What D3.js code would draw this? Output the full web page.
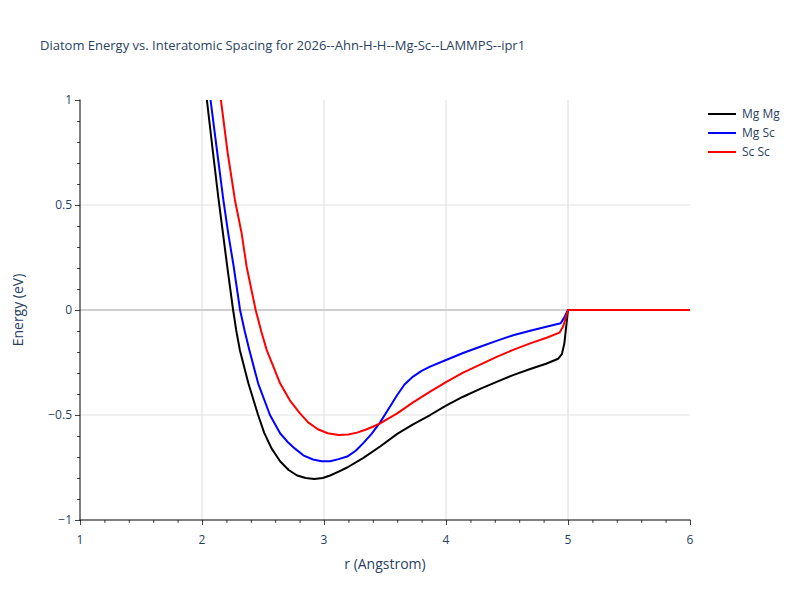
<!DOCTYPE html>
<html>
<head>
<meta charset="utf-8">
<script src="https://cdn.jsdelivr.net/npm/d3@7"></script>
<style>
body { margin: 0; background: #fff; }
text { font-family: "Open Sans", sans-serif; }
</style>
</head>
<body>
<svg id="chart" width="800" height="600"></svg>
<script>
const title = "Diatom Energy vs. Interatomic Spacing for 2026--Ahn-H-H--Mg-Sc--LAMMPS--ipr1";
const seriesNames = ["Mg Mg", "Mg Sc", "Sc Sc"];
const seriesColors = ["black", "blue", "red"];

const rMgMg = [2.00, 2.04, 2.09, 2.135, 2.172, 2.207, 2.255, 2.28, 2.31, 2.38, 2.46, 2.51, 2.57, 2.64, 2.71, 2.78, 2.85, 2.92, 2.99, 3.05, 3.12, 3.19, 3.32, 3.46, 3.60, 3.73, 3.87, 4.00, 4.14, 4.28, 4.42, 4.55, 4.69, 4.82, 4.92, 4.95, 4.97, 5.00, 6.00];
const eMgMg = [1.25, 1.00, 0.75, 0.53, 0.365, 0.206, 0.00, -0.095, -0.19, -0.349, -0.50, -0.585, -0.659, -0.72, -0.762, -0.788, -0.80, -0.805, -0.80, -0.788, -0.77, -0.75, -0.705, -0.65, -0.59, -0.545, -0.50, -0.455, -0.413, -0.376, -0.341, -0.31, -0.281, -0.256, -0.232, -0.21, -0.16, 0.00, 0.00];

const rMgSc = [2.03, 2.07, 2.125, 2.175, 2.215, 2.26, 2.312, 2.35, 2.388, 2.46, 2.557, 2.64, 2.70, 2.76, 2.83, 2.91, 2.98, 3.05, 3.12, 3.19, 3.26, 3.32, 3.39, 3.46, 3.53, 3.60, 3.66, 3.73, 3.80, 3.87, 4.00, 4.14, 4.28, 4.42, 4.55, 4.69, 4.83, 4.94, 4.97, 5.00, 6.00];
const eMgSc = [1.20, 1.00, 0.75, 0.524, 0.365, 0.206, 0.00, -0.10, -0.19, -0.349, -0.50, -0.587, -0.627, -0.659, -0.692, -0.712, -0.72, -0.72, -0.71, -0.698, -0.67, -0.635, -0.59, -0.535, -0.47, -0.405, -0.355, -0.317, -0.29, -0.27, -0.238, -0.205, -0.175, -0.146, -0.12, -0.099, -0.079, -0.063, -0.035, 0.00, 0.00];

const rScSc = [2.12, 2.155, 2.21, 2.27, 2.325, 2.366, 2.44, 2.485, 2.53, 2.64, 2.72, 2.80, 2.87, 2.95, 3.03, 3.12, 3.20, 3.27, 3.34, 3.40, 3.46, 3.60, 3.73, 3.87, 4.00, 4.14, 4.28, 4.42, 4.55, 4.69, 4.83, 4.93, 4.96, 5.00, 6.00];
const eScSc = [1.20, 1.00, 0.75, 0.524, 0.365, 0.206, 0.00, -0.10, -0.19, -0.349, -0.43, -0.49, -0.535, -0.568, -0.587, -0.595, -0.593, -0.584, -0.57, -0.556, -0.54, -0.492, -0.44, -0.389, -0.343, -0.298, -0.26, -0.222, -0.19, -0.159, -0.131, -0.108, -0.079, 0.00, 0.00];

const xTicks = [1, 2, 3, 4, 5, 6];
const yTicks = [-1, -0.5, 0, 0.5, 1];
const xDomain = [1, 6];
const yDomain = [-1, 1];

const seriesR = [rMgMg, rMgSc, rScSc];
const seriesE = [eMgMg, eMgSc, eScSc];

const svg = d3.select("#chart");
const m = { left: 80, right: 110, top: 100, bottom: 80 };
const W = 800, H = 600;
const x = d3.scaleLinear().domain(xDomain).range([m.left, W - m.right]);
const y = d3.scaleLinear().domain(yDomain).range([H - m.bottom, m.top]);
const fontColor = "#2a3f5f";

// title
svg.append("text").attr("x", 40).attr("y", 50).attr("font-size", 13)
  .attr("fill", fontColor).text(title);

// grid
const grid = svg.append("g");
xTicks.filter(t => t > xDomain[0] && t < xDomain[1]).forEach(t => {
  grid.append("line").attr("x1", x(t)).attr("x2", x(t)).attr("y1", y(yDomain[0])).attr("y2", y(yDomain[1]))
    .attr("stroke", "#dcdcdc").attr("stroke-width", 1);
});
yTicks.filter(t => t > yDomain[0] && t < yDomain[1]).forEach(t => {
  grid.append("line").attr("x1", x(xDomain[0])).attr("x2", x(xDomain[1])).attr("y1", y(t)).attr("y2", y(t))
    .attr("stroke", t === 0 ? "#cfcfcf" : "#e2e2e2").attr("stroke-width", t === 0 ? 2 : 1);
});

// clip
svg.append("clipPath").attr("id", "clip").append("rect")
  .attr("x", x(xDomain[0])).attr("y", y(yDomain[1]))
  .attr("width", x(xDomain[1]) - x(xDomain[0])).attr("height", y(yDomain[0]) - y(yDomain[1]));

const line = d3.line().x(d => x(d[0])).y(d => y(d[1]));
const lines = svg.append("g").attr("clip-path", "url(#clip)");
seriesR.forEach((rs, i) => {
  const pts = rs.map((r, j) => [r, seriesE[i][j]]);
  lines.append("path").datum(pts).attr("d", line).attr("fill", "none")
    .attr("stroke", seriesColors[i]).attr("stroke-width", 2).attr("stroke-linejoin", "round");
});

// axes
const fmt = v => (v < 0 ? "\u2212" : "") + Math.abs(v);
const xAxis = svg.append("g").attr("transform", `translate(0,${y(yDomain[0])})`);
xAxis.call(d3.axisBottom(x).tickValues(d3.range(1, 6.001, 0.2)).tickSize(3).tickFormat(""));
xAxis.call(g => g.selectAll(".tick").filter(d => Math.abs(d - Math.round(d)) < 1e-6).select("line").attr("y2", 5));
xAxis.selectAll(".domain").remove();
xAxis.append("line").attr("x1", x(xDomain[0]) - 0.5).attr("x2", x(xDomain[1]) + 0.5).attr("stroke", "black");
xAxis.selectAll(".tick line").attr("stroke", "#444");
xTicks.forEach(t => {
  xAxis.append("text").attr("x", x(t)).attr("y", 24).attr("text-anchor", "middle")
    .attr("font-size", 12).attr("fill", fontColor).text(fmt(t));
});

const yAxis = svg.append("g").attr("transform", `translate(${x(xDomain[0])},0)`);
yAxis.call(d3.axisLeft(y).tickValues(d3.range(-1, 1.001, 0.1)).tickSize(3).tickFormat(""));
yAxis.call(g => g.selectAll(".tick").filter(d => Math.abs(d * 2 - Math.round(d * 2)) < 1e-6).select("line").attr("x2", -5));
yAxis.selectAll(".domain").remove();
yAxis.append("line").attr("y1", y(yDomain[0]) + 0.5).attr("y2", y(yDomain[1]) - 0.5).attr("stroke", "black");
yAxis.selectAll(".tick line").attr("stroke", "#444");
yTicks.forEach(t => {
  yAxis.append("text").attr("x", -8).attr("y", y(t)).attr("dy", "0.35em").attr("text-anchor", "end")
    .attr("font-size", 12).attr("fill", fontColor).text(fmt(t));
});

// axis titles
svg.append("text").attr("x", (x(xDomain[0]) + x(xDomain[1])) / 2).attr("y", 569).attr("text-anchor", "middle")
  .attr("font-size", 14).attr("fill", fontColor).text("r (Angstrom)");
svg.append("text").attr("transform", `translate(23,${(y(yDomain[0]) + y(yDomain[1])) / 2}) rotate(-90)`)
  .attr("text-anchor", "middle").attr("font-size", 14).attr("fill", fontColor).text("Energy (eV)");

// legend
const legend = svg.append("g").attr("transform", "translate(708,114)");
seriesNames.forEach((n, i) => {
  const g = legend.append("g").attr("transform", `translate(0,${i * 19})`);
  g.append("line").attr("x1", 0).attr("x2", 28).attr("stroke", seriesColors[i]).attr("stroke-width", 2);
  g.append("text").attr("x", 34).attr("dy", "0.35em").attr("font-size", 12).attr("fill", fontColor).text(n);
});
</script>
</body>
</html>
